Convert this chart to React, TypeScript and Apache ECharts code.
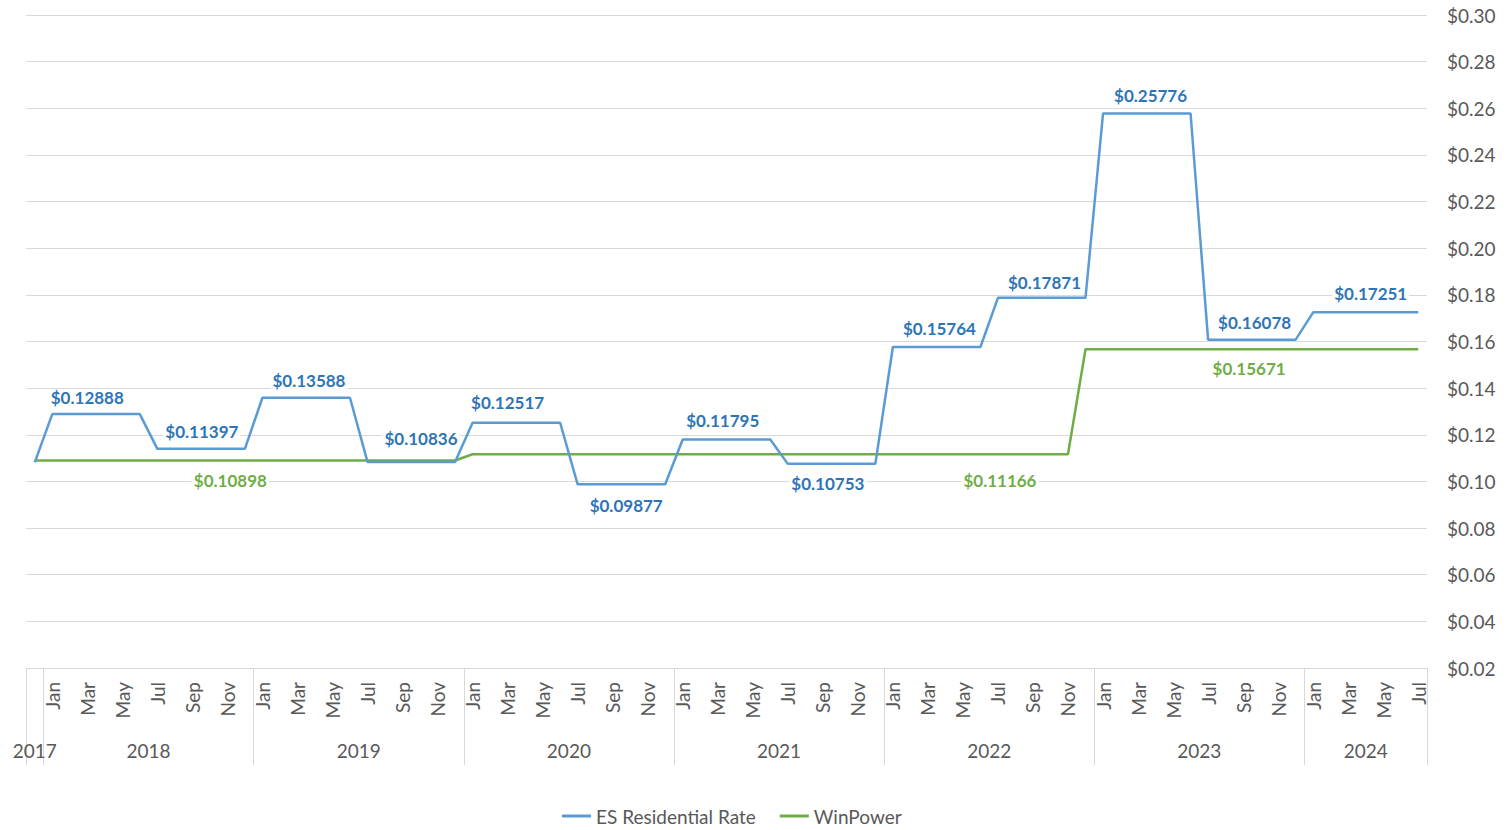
import React, { useEffect, useRef } from "react";
import * as echarts from "echarts";

// ---- Categories ----
const MONTHS = ["Jan", "Feb", "Mar", "Apr", "May", "Jun", "Jul", "Aug", "Sep", "Oct", "Nov", "Dec"];
const SHOWN_MONTHS = ["Jan", "Mar", "May", "Jul", "Sep", "Nov"];
const YEARS = ["2017", "2018", "2019", "2020", "2021", "2022", "2023", "2024"];
const YEAR_FIRST_MONTH = [11, 0, 0, 0, 0, 0, 0, 0];
const YEAR_LAST_MONTH = [11, 11, 11, 11, 11, 11, 11, 6];

const PERIODS: { year: string; month: string }[] = [];
YEARS.forEach((y, k) => {
  for (let m = YEAR_FIRST_MONTH[k]; m <= YEAR_LAST_MONTH[k]; m++) PERIODS.push({ year: y, month: MONTHS[m] });
});
const CATEGORIES = PERIODS.map((p) => p.month + " " + p.year);

// ---- Series values (Dec 2017 .. Jul 2024) ----
const ES_RESIDENTIAL_RATE = [
  0.1082,
  0.12888, 0.12888, 0.12888, 0.12888, 0.12888, 0.12888, 0.11397, 0.11397, 0.11397, 0.11397, 0.11397, 0.11397,
  0.13588, 0.13588, 0.13588, 0.13588, 0.13588, 0.13588, 0.10836, 0.10836, 0.10836, 0.10836, 0.10836, 0.10836,
  0.12517, 0.12517, 0.12517, 0.12517, 0.12517, 0.12517, 0.09877, 0.09877, 0.09877, 0.09877, 0.09877, 0.09877,
  0.11795, 0.11795, 0.11795, 0.11795, 0.11795, 0.11795, 0.10753, 0.10753, 0.10753, 0.10753, 0.10753, 0.10753,
  0.15764, 0.15764, 0.15764, 0.15764, 0.15764, 0.15764, 0.17871, 0.17871, 0.17871, 0.17871, 0.17871, 0.17871,
  0.25776, 0.25776, 0.25776, 0.25776, 0.25776, 0.25776, 0.16078, 0.16078, 0.16078, 0.16078, 0.16078, 0.16078,
  0.17251, 0.17251, 0.17251, 0.17251, 0.17251, 0.17251, 0.17251,
];
const WINPOWER = [
  0.10898,
  0.10898, 0.10898, 0.10898, 0.10898, 0.10898, 0.10898, 0.10898, 0.10898, 0.10898, 0.10898, 0.10898, 0.10898,
  0.10898, 0.10898, 0.10898, 0.10898, 0.10898, 0.10898, 0.10898, 0.10898, 0.10898, 0.10898, 0.10898, 0.10898,
  0.11166, 0.11166, 0.11166, 0.11166, 0.11166, 0.11166, 0.11166, 0.11166, 0.11166, 0.11166, 0.11166, 0.11166,
  0.11166, 0.11166, 0.11166, 0.11166, 0.11166, 0.11166, 0.11166, 0.11166, 0.11166, 0.11166, 0.11166, 0.11166,
  0.11166, 0.11166, 0.11166, 0.11166, 0.11166, 0.11166, 0.11166, 0.11166, 0.11166, 0.11166, 0.11166, 0.15671,
  0.15671, 0.15671, 0.15671, 0.15671, 0.15671, 0.15671, 0.15671, 0.15671, 0.15671, 0.15671, 0.15671, 0.15671,
  0.15671, 0.15671, 0.15671, 0.15671, 0.15671, 0.15671, 0.15671,
];

// ---- Y ticks ----
const Y_MIN = 0.02;
const Y_MAX = 0.3;
const Y_STEP = 0.02;

// ---- Which points carry a data label ----
type LabelSpec = { i: number; pos: "top" | "bottom"; dx: number; dy: number };
const ES_LABELS: LabelSpec[] = [
  { i: 3, pos: "top", dx: 0, dy: 1 },
  { i: 10, pos: "top", dx: -8, dy: 0 },
  { i: 16, pos: "top", dx: -6, dy: 0 },
  { i: 22, pos: "top", dx: 1, dy: -6 },
  { i: 27, pos: "top", dx: 0, dy: -3 },
  { i: 34, pos: "bottom", dx: -4, dy: 2 },
  { i: 39, pos: "top", dx: 5, dy: -2 },
  { i: 45, pos: "bottom", dx: 5, dy: 0 },
  { i: 52, pos: "top", dx: -6, dy: -1 },
  { i: 58, pos: "top", dx: -6, dy: 2 },
  { i: 64, pos: "top", dx: -5, dy: -1 },
  { i: 70, pos: "top", dx: -6, dy: 0 },
  { i: 76, pos: "top", dx: 5, dy: -1 },
];
const WP_LABELS: LabelSpec[] = [
  { i: 11, pos: "bottom", dx: 3, dy: 1 },
  { i: 55, pos: "bottom", dx: 2, dy: 7 },
  { i: 69, pos: "bottom", dx: 6, dy: 0 },
];

const BLUE_LINE = "#5B9BD5";
const BLUE_TEXT = "#2E75B6";
const GREEN = "#70AD47";
const AXIS_TEXT = "#595959";
const GRID_LINE = "#D9D9D9";
const FONT = "Lato, 'Noto Sans', sans-serif";

function fmt(v: number) {
  return "$" + v.toFixed(5);
}

function buildData(values: number[], labels: LabelSpec[], color: string) {
  return values.map((v, i) => {
    const spec = labels.find((l) => l.i === i);
    if (!spec) return v;
    return {
      value: v,
      label: {
        show: true,
        position: spec.pos,
        distance: spec.pos === "top" ? 9 : 11,
        offset: [spec.dx, spec.dy],
        formatter: () => fmt(v),
        color,
        fontFamily: FONT,
        fontWeight: "bold",
        fontSize: 17,
        backgroundColor: "#ffffff",
        padding: [0, 2],
      },
    };
  });
}

// year boundaries & centres (in band units)
const YEAR_STARTS: number[] = [];
PERIODS.forEach((p, i) => {
  if (i === 0 || p.year !== PERIODS[i - 1].year) YEAR_STARTS.push(i);
});
const YEAR_CENTERS = YEAR_STARTS.map((s, k) => {
  const end = k + 1 < YEAR_STARTS.length ? YEAR_STARTS[k + 1] : PERIODS.length;
  return (s + end) / 2;
});

export default function App() {
  const ref = useRef<HTMLDivElement>(null);
  useEffect(() => {
    document.body.style.margin = "0";
    document.body.style.overflow = "hidden";
    if (!ref.current) return;
    const chart = echarts.init(ref.current, undefined, { renderer: "svg" });
    const n = CATEGORIES.length;
    chart.setOption({
      animation: false,
      backgroundColor: "#ffffff",
      grid: { left: 26, right: 82, top: 15, bottom: 162, containLabel: false },
      legend: {
        top: 806,
        left: 562,
        icon: "rect",
        itemWidth: 29,
        itemHeight: 3,
        itemGap: 24,
        padding: 0,
        textStyle: { color: AXIS_TEXT, fontSize: 19, lineHeight: 20, fontFamily: FONT },
        data: ["ES Residential Rate", "WinPower"],
      },
      xAxis: [
        {
          type: "category",
          data: CATEGORIES,
          boundaryGap: true,
          axisLine: { show: true, lineStyle: { color: GRID_LINE, width: 1 } },
          axisTick: {
            show: true,
            length: 97,
            lineStyle: { color: GRID_LINE, width: 1 },
            interval: (index: number) => YEAR_STARTS.indexOf(index) >= 0,
          },
          axisLabel: {
            rotate: 90,
            margin: 14,
            color: AXIS_TEXT,
            fontSize: 19,
            fontFamily: FONT,
            interval: (index: number) => SHOWN_MONTHS.indexOf(PERIODS[index].month) >= 0,
            formatter: (_v: string, index: number) => PERIODS[index].month,
          },
          splitLine: { show: false },
        },
        {
          type: "value",
          position: "bottom",
          min: 0,
          max: n,
          interval: 0.5,
          axisLine: { show: false },
          axisTick: { show: false },
          splitLine: { show: false },
          axisLabel: {
            margin: 73,
            color: AXIS_TEXT,
            fontSize: 19,
            fontFamily: FONT,
            showMinLabel: true,
            showMaxLabel: true,
            formatter: (v: number) => {
              const k = YEAR_CENTERS.findIndex((c) => Math.abs(c - v) < 1e-6);
              return k >= 0 ? YEARS[k] : "";
            },
          },
        },
      ],
      yAxis: {
        type: "value",
        position: "right",
        min: Y_MIN,
        max: Y_MAX,
        interval: Y_STEP,
        axisLine: { show: false },
        axisTick: { show: false },
        axisLabel: {
          margin: 20,
          color: AXIS_TEXT,
          fontSize: 19,
          fontFamily: FONT,
          formatter: (v: number) => "$" + v.toFixed(2),
        },
        splitLine: { lineStyle: { color: GRID_LINE, width: 1 } },
      },
      series: [
        {
          name: "ES Residential Rate",
          type: "line",
          xAxisIndex: 0,
          data: buildData(ES_RESIDENTIAL_RATE, ES_LABELS, BLUE_TEXT),
          symbol: "circle",
          symbolSize: 0,
          showSymbol: true,
          showAllSymbol: true,
          lineStyle: { color: BLUE_LINE, width: 2.5 },
          itemStyle: { color: BLUE_LINE },
          z: 3,
        },
        {
          name: "WinPower",
          type: "line",
          xAxisIndex: 0,
          data: buildData(WINPOWER, WP_LABELS, GREEN),
          symbol: "circle",
          symbolSize: 0,
          showSymbol: true,
          showAllSymbol: true,
          lineStyle: { color: GREEN, width: 2.5 },
          itemStyle: { color: GREEN },
          z: 2,
        },
      ],
    });
    return () => chart.dispose();
  }, []);
  return <div ref={ref} style={{ width: 1509, height: 830 }} />;
}
